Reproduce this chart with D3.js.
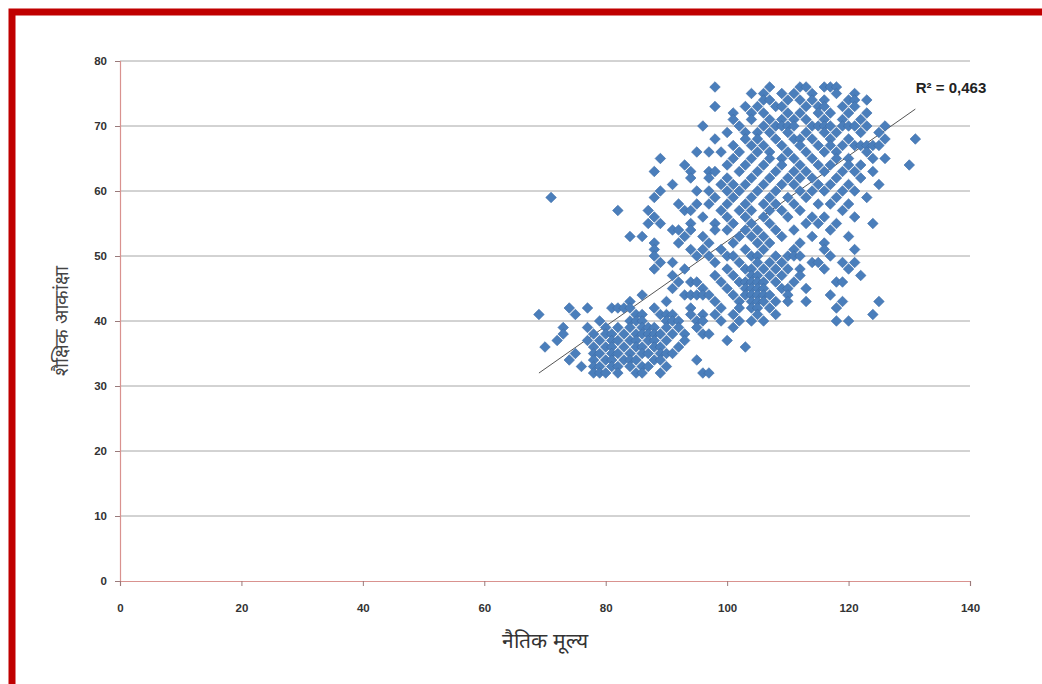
<!DOCTYPE html>
<html>
<head>
<meta charset="utf-8">
<script src="https://cdnjs.cloudflare.com/ajax/libs/d3/7.8.5/d3.min.js"></script>
<style>
  html, body { margin: 0; padding: 0; background: #fff; }
  #app { width: 1042px; height: 684px; }
</style>
</head>
<body>
<div id="app"></div>
<script>
(function (d3) {
  'use strict'

  // y value -> x values of the points in that row
  const rowY = [76, 75, 74, 73, 72, 71, 70, 69, 68, 67, 66, 65, 64, 63, 62, 61, 60, 59, 58, 57, 56, 55, 54,
    53, 52, 51, 50, 49, 48, 47, 46, 45, 44, 43, 42, 41, 40, 39, 38, 37, 36, 35, 34, 33, 32]
  const rowX = [
    [98, 107, 112, 113, 116, 117, 118],
    [104, 106, 109, 111, 114, 118, 121],
    [106, 107, 110, 112, 114, 116, 120, 121, 123],
    [98, 103, 105, 108, 109, 113, 115, 116, 119, 121],
    [101, 104, 106, 110, 112, 115, 117, 120, 123],
    [101, 104, 107, 109, 111, 113, 116, 119, 122],
    [96, 102, 106, 108, 109, 110, 111, 114, 115, 116, 117, 119, 120, 121, 123, 126],
    [100, 103, 105, 107, 110, 113, 116, 118, 122, 125],
    [98, 103, 105, 108, 111, 112, 114, 117, 120, 126, 131],
    [101, 104, 106, 109, 112, 115, 117, 119, 121, 122, 123, 124, 125],
    [95, 97, 99, 102, 105, 107, 110, 113, 116, 118, 123],
    [89, 101, 104, 107, 109, 111, 114, 118, 120, 124, 126],
    [93, 100, 103, 106, 109, 112, 115, 117, 120, 122, 130],
    [88, 94, 97, 98, 102, 105, 108, 111, 113, 116, 119, 121, 124],
    [94, 97, 100, 104, 107, 110, 112, 114, 118, 122],
    [91, 99, 101, 103, 106, 109, 111, 115, 117, 120, 125],
    [89, 95, 97, 100, 102, 105, 108, 112, 114, 116, 119, 121],
    [71, 88, 98, 101, 104, 107, 110, 113, 118, 123],
    [92, 95, 97, 100, 103, 106, 108, 111, 115, 117, 120],
    [82, 87, 93, 94, 99, 102, 104, 107, 109, 112, 119],
    [88, 96, 100, 103, 106, 110, 114, 116, 121],
    [87, 89, 94, 98, 101, 104, 107, 113, 115, 118, 124],
    [91, 92, 94, 98, 100, 103, 105, 108, 111, 117],
    [84, 86, 93, 96, 102, 104, 106, 109, 114, 120],
    [88, 92, 97, 101, 105, 107, 112, 116],
    [88, 94, 96, 99, 103, 106, 111, 116, 121],
    [88, 95, 97, 100, 101, 104, 105, 108, 110, 111, 112, 117],
    [89, 91, 98, 102, 105, 107, 109, 114, 115, 119, 121],
    [88, 93, 100, 103, 104, 106, 108, 110, 112, 116, 120],
    [91, 98, 101, 104, 105, 107, 109, 112, 122],
    [92, 94, 95, 99, 102, 103, 104, 105, 106, 108, 111, 118, 119],
    [91, 96, 100, 103, 104, 105, 106, 109, 110, 113],
    [86, 93, 94, 95, 96, 97, 101, 103, 104, 105, 106, 107, 110, 117],
    [84, 90, 98, 102, 104, 105, 106, 108, 110, 113, 119, 125],
    [74, 77, 81, 82, 83, 84, 88, 94, 99, 102, 104, 105, 107, 118],
    [69, 75, 85, 86, 89, 90, 91, 94, 96, 98, 101, 105, 108, 124],
    [79, 84, 85, 86, 90, 91, 92, 95, 96, 99, 102, 104, 106, 118, 120],
    [73, 77, 80, 82, 84, 86, 87, 88, 90, 92, 95, 101],
    [73, 78, 80, 81, 83, 85, 86, 87, 88, 89, 91, 93, 96, 97],
    [72, 77, 79, 81, 82, 84, 85, 87, 88, 90, 93, 100],
    [70, 78, 80, 81, 83, 85, 86, 88, 89, 92, 103],
    [75, 78, 79, 81, 82, 84, 86, 87, 89, 90, 91],
    [74, 78, 80, 81, 83, 84, 85, 88, 89, 95],
    [76, 78, 79, 81, 82, 84, 86, 87, 90],
    [78, 79, 80, 82, 85, 86, 89, 96, 97]
  ]

  // linear trend as shown on the chart
  const trendSlope = 0.655
  const trendIntercept = -13.2
  const trendLabel = 'R² = 0,463'

  const xTicks = [0, 20, 40, 60, 80, 100, 120, 140]
  const yTicks = [0, 10, 20, 30, 40, 50, 60, 70, 80]
  const xTitle = 'नैतिक मूल्य'
  const yTitle = 'शैक्षिक आकांक्षा'

  const points = []
  rowY.forEach(function (y, i) {
    rowX[i].forEach(function (x) { points.push({ x: x, y: y }) })
  })

  const w = 1042
  const h = 684
  const margin = { left: 120, right: 72, top: 61, bottom: 103 }

  const svg = d3.select('#app')
    .append('svg')
    .attr('width', w)
    .attr('height', h)

  // red frame
  svg.append('rect')
    .attr('x', 12).attr('y', 12)
    .attr('width', 1060).attr('height', 700)
    .attr('fill', '#fff')
    .attr('stroke', '#c00000')
    .attr('stroke-width', 7)

  const x = d3.scaleLinear().domain([0, 140]).range([margin.left, w - margin.right])
  const y = d3.scaleLinear().domain([0, 80]).range([h - margin.bottom, margin.top])

  const font = "'Liberation Sans', 'DejaVu Sans', sans-serif"

  // gridlines
  svg.append('g')
    .selectAll('line')
    .data(yTicks.filter(function (t) { return t > 0 }))
    .enter().append('line')
    .attr('x1', x(0)).attr('x2', x(140))
    .attr('y1', function (d) { return y(d) })
    .attr('y2', function (d) { return y(d) })
    .attr('stroke', '#a6a6a6')
    .attr('stroke-width', 1)

  // axes
  const yAxis = svg.append('g')
    .attr('transform', 'translate(' + x(0) + ',0)')
    .call(d3.axisLeft(y).tickValues(yTicks).tickSize(5).tickPadding(8))
  const xAxis = svg.append('g')
    .attr('transform', 'translate(0,' + y(0) + ')')
    .call(d3.axisBottom(x).tickValues(xTicks).tickSize(5).tickPadding(18))

  ;[xAxis, yAxis].forEach(function (g) {
    g.select('.domain').attr('stroke', '#d9928f').attr('stroke-width', 1.2)
    g.selectAll('.tick line').attr('stroke', '#9a7a7a')
    g.selectAll('.tick text')
      .attr('fill', '#333')
      .style('font-family', font)
      .style('font-size', '11.5px')
      .style('font-weight', 'bold')
  })

  // trend line over the data range
  const xr = d3.extent(points, function (d) { return d.x })
  svg.append('line')
    .attr('x1', x(xr[0])).attr('y1', y(trendSlope * xr[0] + trendIntercept))
    .attr('x2', x(xr[1])).attr('y2', y(trendSlope * xr[1] + trendIntercept))
    .attr('stroke', '#555')
    .attr('stroke-width', 1)

  // points
  const diamond = d3.symbol().type(d3.symbolSquare).size(56)
  svg.append('g')
    .selectAll('path')
    .data(points)
    .enter().append('path')
    .attr('d', diamond)
    .attr('transform', function (d) { return 'translate(' + x(d.x) + ',' + y(d.y) + ') rotate(45)' })
    .attr('fill', '#4a7ebb')
    .attr('stroke', '#3d6ea8')
    .attr('stroke-width', 0.6)

  svg.append('text')
    .attr('x', 951).attr('y', 93)
    .attr('text-anchor', 'middle')
    .attr('fill', '#222')
    .style('font-family', font)
    .style('font-size', '15px')
    .style('font-weight', 'bold')
    .text(trendLabel)

  svg.append('text')
    .attr('x', 545).attr('y', 648)
    .attr('text-anchor', 'middle')
    .attr('fill', '#333')
    .style('font-family', font)
    .style('font-size', '21px')
    .text(xTitle)

  svg.append('text')
    .attr('transform', 'translate(68,' + y(40) + ') rotate(-90)')
    .attr('text-anchor', 'middle')
    .attr('fill', '#444')
    .style('font-family', font)
    .style('font-size', '19px')
    .text(yTitle)

}(d3))
</script>
</body>
</html>
